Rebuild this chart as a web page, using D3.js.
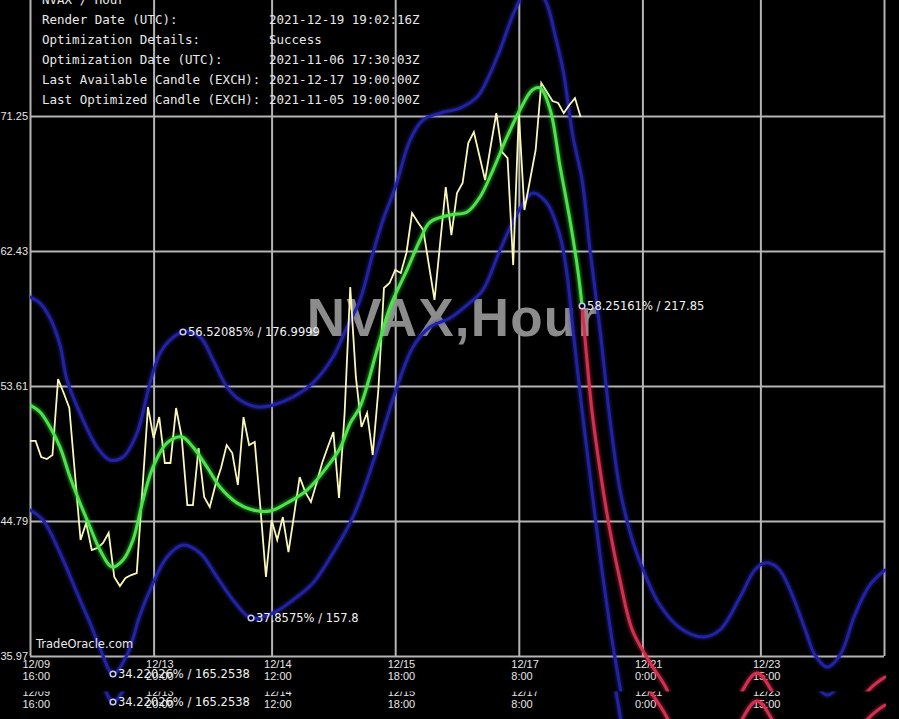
<!DOCTYPE html>
<html><head><meta charset="utf-8">
<script src="https://cdn.jsdelivr.net/npm/d3@7"></script>
<style>html,body{margin:0;padding:0;background:#000;overflow:hidden}</style>
</head><body><svg id="c" width="899" height="719"></svg>
<script>
// ---------- data ----------
const yTickValues = [35.97, 44.79, 53.61, 62.43, 71.25];
const yTickLabels = ["35.97", "44.79", "53.61", "62.43", "71.25"];
const xTickIndex = [0, 22, 43, 65, 87, 109, 130, 152];
const xTickDates = ["12/09", "12/13", "12/14", "12/15", "12/17", "12/21", "12/23", ""];
const xTickTimes = ["16:00", "20:00", "12:00", "18:00", "8:00", "0:00", "15:00", ""];

const headerKeys = ["NVAX / Hour", "Render Date (UTC):", "Optimization Details:", "Optimization Date (UTC):", "Last Available Candle (EXCH):", "Last Optimized Candle (EXCH):"];
const headerVals = ["", "2021-12-19 19:02:16Z", "Success", "2021-11-06 17:30:03Z", "2021-12-17 19:00:00Z", "2021-11-05 19:00:00Z"];

// hourly closes (bar index = position)
const price = [50.02,50.02,48.97,48.84,49.10,54.07,53.15,52.17,47.86,43.55,
 44.66,42.89,43.03,43.35,44.01,41.13,40.54,41.07,41.26,41.39,
 46.81,52.24,50.21,51.58,48.58,48.58,52.17,50.28,45.83,45.83,
 49.56,46.36,45.70,47.14,48.25,49.75,49.23,47.14,51.58,49.75,
 49.95,45.70,41.13,44.85,43.55,45.05,42.76,45.18,47.66,46.68,
 46.03,47.27,48.58,49.62,50.60,46.29,51.85,60.08,54.20,50.93,
 51.85,49.10,53.35,60.01,60.34,61.19,60.99,62.30,64.91,64.32,
 63.80,61.51,59.23,62.95,66.61,63.47,66.22,66.87,69.48,70.20,
 68.64,67.07,69.29,71.44,68.90,68.50,61.51,71.44,65.11,67.07,
 69.03,73.40,72.82,72.23,72.10,71.44,71.97,72.42,71.18];

// smoothed fit [bar index, value]
const fitPast = [[0,52.37],[1.78,51.91],[3.56,50.93],[5.34,49.62],[7.12,47.66],[8.9,45.97],[10.68,44.40],[12.46,42.89],[14.6,41.78],[16.55,42.24],[18.33,43.55],[20.11,46.16],[21.9,48.32],[24.39,49.89],[27.06,50.28],[29.0,49.62],[31.5,48.32],[33.8,47.01],[36.85,45.97],[39.7,45.51],[42.7,45.44],[45.75,45.97],[49.3,46.81],[52.87,48.32],[55.2,49.56],[57.0,51.19],[58.74,52.24],[61.77,55.96],[64.08,58.77],[67.1,61.19],[69.42,63.15],[71.2,64.32],[74.76,64.78],[77.8,64.98],[80.1,65.96],[82.4,67.72],[84.9,69.88],[87.2,71.64],[89.4,72.95],[90.8,73.08],[92.6,71.64],[94.3,68.05],[96.1,64.45],[97.5,61.19],[98.26,58.84]];
// projection
const fitProj = [[98.26,58.84],[98.97,55.96],[100.0,52.04],[101.46,48.12],[103.2,44.20],[105.0,40.94],[107.2,37.67],[110.4,35.51],[113.4,33.75],[116.6,30.48],[120.1,28.52],[123.7,30.16],[126.7,33.62],[129.4,34.86],[132.1,33.62],[135.3,30.16],[139.7,28.52],[144.2,30.16],[149.0,33.62],[152.2,34.60]];
// upper band
const upperBand = [[0,59.42],[1.78,59.03],[3.56,58.05],[5.34,56.29],[6.59,54.00],[9.43,51.39],[11.93,49.62],[14.24,48.77],[16.55,48.97],[19.05,50.54],[21.36,53.81],[23.14,55.76],[24.92,56.61],[27.23,57.14],[30.26,56.81],[32.57,55.31],[35.07,53.54],[37.38,52.69],[40.41,52.24],[43.25,52.37],[46.81,52.89],[50.37,53.81],[53.93,55.50],[56.43,57.46],[58.74,59.23],[61.05,62.30],[62.83,64.45],[65.15,66.74],[67.64,69.68],[69.95,70.99],[72.98,71.44],[76.54,71.77],[79.57,72.49],[81.35,73.60],[83.66,75.56],[86.33,78.17],[89.0,79.81],[91.67,78.83],[93.45,76.54],[94.87,74.25],[96.65,69.88],[98.26,67.07],[99.68,62.49],[101.46,57.27],[103.24,51.39],[105.02,46.81],[107.2,43.55],[109.5,41.26],[112.1,39.30],[115.7,37.80],[119.8,37.21],[122.8,37.67],[126.4,39.82],[129.0,41.59],[130.8,42.05],[133.1,41.72],[135.3,40.28],[138.0,37.67],[139.7,36.04],[141.9,35.25],[144.2,36.04],[146.8,38.65],[149.5,40.61],[152.2,41.59]];
// lower band
const lowerBand = [[0,45.51],[2.31,44.85],[5.34,42.70],[8.37,40.09],[10.68,38.13],[12.46,36.49],[14.77,34.79],[17.27,36.04],[19.58,38.65],[21.36,40.28],[24.39,42.44],[27.23,43.22],[30.26,42.70],[33.29,41.13],[36.13,39.63],[39.34,38.45],[43.25,38.78],[46.81,39.63],[50.37,40.74],[53.93,42.70],[56.96,44.66],[58.74,46.16],[61.77,49.43],[65.33,53.54],[68.17,56.16],[71.2,57.46],[74.76,58.05],[77.8,58.90],[80.6,59.88],[83.3,62.17],[85.4,63.93],[87.6,65.43],[89.5,66.22],[92.0,65.56],[94.3,63.47],[95.6,60.86],[96.65,57.27],[98.26,52.04],[100.0,46.81],[101.8,41.59],[103.6,37.02],[105.4,33.10],[107.7,27.87],[110.4,22.64]];

const noteIdx = [27.23, 39.34, 98.26, 14.77];
const noteVal = [57.14, 38.45, 58.84, 34.79];
const noteText = ["56.52085% / 176.9999", "37.8575% / 157.8", "58.25161% / 217.85", "34.22026% / 165.2538"];

// ---------- chart ----------
const W = 899, H = 719;
const x = d3.scaleLinear().domain([0, 152]).range([30, 884]);
const y = d3.scaleLinear().domain([35.97, 71.25]).range([656, 116]);

const svg = d3.select("#c");
const defs = svg.append("defs");
const f = defs.append("filter").attr("id", "glow").attr("x", "-20%").attr("y", "-20%").attr("width", "140%").attr("height", "140%");
f.append("feGaussianBlur").attr("stdDeviation", 1.8);
defs.append("clipPath").attr("id", "plotclip").append("rect")
  .attr("x", 30).attr("y", -200).attr("width", 856).attr("height", 1200);
defs.append("clipPath").attr("id", "stripclip").append("rect")
  .attr("x", 0).attr("y", 663.5).attr("width", W).attr("height", 40);

const line = d3.line().x(d => x(d[0])).y(d => y(d[1])).curve(d3.curveCatmullRom.alpha(0.5));
const priceLine = d3.line().x((d, i) => x(i)).y(d => y(d));

function render(g) {
  g.append("rect").attr("width", W).attr("height", H).attr("fill", "#000");

  // horizontal grid + y labels
  const ya = g.append("g").attr("transform", "translate(30,0)")
    .call(d3.axisLeft(y).tickValues(yTickValues).tickFormat((d, i) => yTickLabels[i])
      .tickSizeInner(-854).tickSizeOuter(0).tickPadding(2));
  ya.select(".domain").remove();
  ya.selectAll("line").attr("stroke", "#b4b4b4").attr("stroke-width", 2);
  ya.selectAll("text").attr("fill", "#e6e6e6").attr("dy", "0.3em")
    .style("font-family", "'Liberation Sans', Arial, sans-serif").style("font-size", "11px");

  // vertical grid + x labels
  const xa = g.append("g").attr("transform", "translate(0,656)")
    .call(d3.axisBottom(x).tickValues(xTickIndex).tickFormat(() => "")
      .tickSizeInner(-656).tickSizeOuter(0));
  xa.select(".domain").remove();
  xa.selectAll("line").attr("stroke", "#b4b4b4").attr("stroke-width", 2);
  xa.selectAll(".tick text").remove();
  xa.selectAll(".tick").each(function (d, i) {
    const t = d3.select(this).append("text").attr("fill", "#e6e6e6")
      .style("font-family", "'Liberation Sans', Arial, sans-serif").style("font-size", "11px")
      .attr("text-anchor", "start");
    t.append("tspan").attr("x", -8).attr("y", 11.5).text(xTickDates[i]);
    t.append("tspan").attr("x", -8).attr("y", 23.5).text(xTickTimes[i]);
  });

  // watermark
  g.append("text").attr("x", 453).attr("y", 336).attr("text-anchor", "middle")
    .attr("fill", "#8c8c8c").style("font-family", "'Liberation Sans', Arial, sans-serif")
    .style("font-weight", "bold").style("font-size", "53px").style("letter-spacing", "1.2px")
    .text("NVAX,Hour");

  const lines = g.append("g").attr("clip-path", "url(#plotclip)");
  function glowPath(data, color, glowColor, w, op) {
    lines.append("path").datum(data).attr("d", line).attr("fill", "none")
      .attr("stroke", glowColor).attr("stroke-width", w + 2.5).attr("opacity", op).attr("filter", "url(#glow)");
    lines.append("path").datum(data).attr("d", line).attr("fill", "none")
      .attr("stroke", color).attr("stroke-width", w).attr("stroke-linecap", "round");
  }
  glowPath(upperBand, "#2222a6", "#3030d0", 3, 0.4);
  glowPath(lowerBand, "#2222a6", "#3030d0", 3, 0.4);
  glowPath(fitProj, "#d42e50", "#ff4060", 3, 0.4);
  lines.append("path").datum(price).attr("d", priceLine).attr("fill", "none")
    .attr("stroke", "#fbf7b8").attr("stroke-width", 1.8).attr("stroke-linejoin", "miter");
  glowPath(fitPast, "#4ee24e", "#40ff40", 3, 0.45);

  // notes
  noteIdx.forEach((ix, k) => {
    g.append("circle").attr("cx", x(ix)).attr("cy", y(noteVal[k])).attr("r", 2.8)
      .attr("fill", "#000").attr("stroke", "#c8c8ff").attr("stroke-width", 1.5);
    g.append("text").attr("x", x(ix) + 5).attr("y", y(noteVal[k]) + 4)
      .attr("fill", "#f2f2f2").style("font-family", "'DejaVu Sans', Verdana, sans-serif")
      .style("font-size", "11.5px").text(noteText[k]);
  });

  // header
  headerKeys.forEach((k, i) => {
    const by = 4 + i * 20;
    g.append("text").attr("x", 42).attr("y", by).attr("fill", "#e8e8e8")
      .style("font-family", "'DejaVu Sans Mono', 'Liberation Mono', monospace").style("font-size", "12.5px")
      .text(k);
    g.append("text").attr("x", 269).attr("y", by).attr("fill", "#e8e8e8")
      .style("font-family", "'DejaVu Sans Mono', 'Liberation Mono', monospace").style("font-size", "12.5px")
      .text(headerVals[i]);
  });

  g.append("text").attr("x", 36).attr("y", 648).attr("fill", "#e8e8e8")
    .style("font-family", "'DejaVu Sans', Verdana, sans-serif").style("font-size", "11.5px")
    .text("TradeOracle.com");
}

render(svg.append("g"));
// duplicated bottom strip (as in the source image)
render(svg.append("g").attr("transform", "translate(0,28)").attr("clip-path", "url(#stripclip)"));
</script>
</body></html>
